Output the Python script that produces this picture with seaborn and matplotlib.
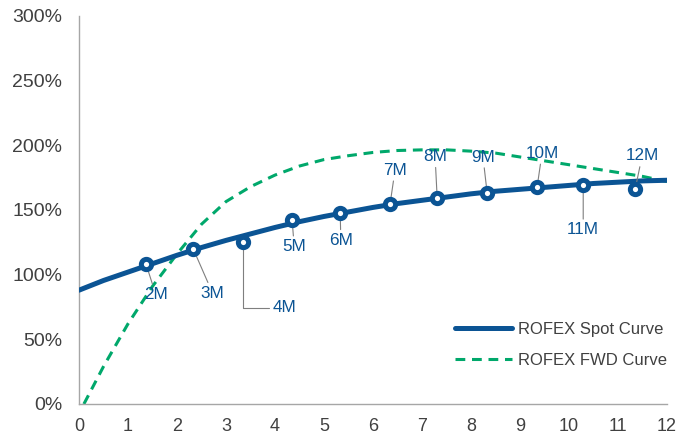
import matplotlib
matplotlib.use("Agg")
import matplotlib.pyplot as plt
import seaborn as sns
import pandas as pd
from matplotlib.ticker import FuncFormatter

# Observed ROFEX futures (months to expiry vs. implied rate, %)
tenor_labels = ["2M", "3M", "4M", "5M", "6M", "7M", "8M", "9M", "10M", "11M", "12M"]
tenor_x = [1.37, 2.33, 3.35, 4.35, 5.33, 6.35, 7.31, 8.33, 9.35, 10.29, 11.35]
tenor_rate = [108, 120, 125, 142, 148, 155, 159, 163, 168, 169, 166]

# Fitted spot curve
spot_x = [0, 0.5, 1, 1.5, 2, 2.5, 3, 3.5, 4, 4.5, 5, 5.5, 6, 6.5,
          7, 7.5, 8, 8.5, 9, 9.5, 10, 10.5, 11, 11.5, 12]
spot_y = [88, 95.5, 102, 108.5, 115, 121, 126.5, 131.5, 136.5, 141, 145, 148.5, 152,
          155, 157.5, 160, 162.5, 164.5, 166, 167.5, 169, 170.5, 171.5, 172.5, 173]

# Implied forward curve
fwd_x = [0.1, 0.5, 1, 1.5, 2, 2.5, 3, 3.5, 4, 4.5, 5, 5.5, 6, 6.5,
         7, 7.5, 8, 8.5, 9, 9.5, 10, 10.5, 11, 11.5, 12]
fwd_y = [0, 29, 62, 91, 116, 139, 156.5, 168, 177, 184, 189, 192, 194.5, 196,
         196.5, 196.5, 195.5, 194, 191, 188, 185, 182, 179, 176, 172]

# Label placement for each tenor: text offset from its point, in points
label_dx = [7, 14, 21, 1.5, 0.5, 3.5, -1.5, -3, 3.5, 0, 5]
label_dy = [-22, -32, -47, -19, -20, 24, 30, 26, 24, -32, 24]

sns.set_theme(style="white")
plt.rcParams["font.family"] = ["Liberation Sans", "DejaVu Sans"]

BLUE = "#0b5494"
GREEN = "#00a86b"
GREY_TXT = "#404040"
AXIS = "#a6a6a6"

fig = plt.figure(figsize=(6.9, 4.38), dpi=100)
ax = fig.add_axes([79 / 690, 34 / 438, 588 / 690, 388 / 438])

spot_df = pd.DataFrame({"x": spot_x, "y": spot_y})
fwd_df = pd.DataFrame({"x": fwd_x, "y": fwd_y})
pts_df = pd.DataFrame({"x": tenor_x, "y": tenor_rate, "label": tenor_labels})

sns.lineplot(data=spot_df, x="x", y="y", ax=ax, color=BLUE, lw=3.6,
             label="ROFEX Spot Curve", zorder=3)
sns.lineplot(data=fwd_df, x="x", y="y", ax=ax, color=GREEN, lw=2.2,
             label="ROFEX FWD Curve", zorder=2)
ax.lines[-1].set_dashes([3.2, 2.2])
ax.lines[-1].set_dash_capstyle("butt")

for i, (xv, yv, lab) in enumerate(zip(tenor_x, tenor_rate, tenor_labels)):
    if lab == "4M":
        ax.annotate(lab, xy=(xv, yv), xytext=(label_dx[i], label_dy[i]),
                    textcoords="offset points", ha="left", va="center",
                    fontsize=12.3, color=BLUE, zorder=4,
                    arrowprops=dict(arrowstyle="-", color="#7f7f7f", lw=0.8,
                                    shrinkA=0, shrinkB=0, relpos=(0, 0.5),
                                    connectionstyle="angle,angleA=0,angleB=90,rad=0"))
    else:
        ax.annotate(lab, xy=(xv, yv), xytext=(label_dx[i], label_dy[i]),
                    textcoords="offset points", ha="center", va="center",
                    fontsize=12.3, color=BLUE, zorder=4,
                    arrowprops=dict(arrowstyle="-", color="#7f7f7f", lw=0.8,
                                    shrinkA=0, shrinkB=0))

ax.plot(pts_df["x"], pts_df["y"], ls="none", marker="o", ms=7.4, mew=3.6,
        mfc="white", mec=BLUE, zorder=5)

ax.set_xlim(0, 12)
ax.set_ylim(0, 300)
ax.set_xticks(range(0, 13))
ax.set_yticks(range(0, 301, 50))
ax.yaxis.set_major_formatter(FuncFormatter(lambda v, p: f"{int(v)}%"))
ax.set_xlabel("")
ax.set_ylabel("")

for side in ("top", "right"):
    ax.spines[side].set_visible(False)
for side in ("left", "bottom"):
    ax.spines[side].set_color(AXIS)
    ax.spines[side].set_linewidth(1.0)
ax.tick_params(axis="both", which="major", direction="out", length=4, width=1.0,
               color=AXIS, labelcolor=GREY_TXT)
ax.tick_params(axis="x", pad=6, labelsize=13)
ax.tick_params(axis="y", pad=8, labelsize=14)

leg = ax.legend(loc="upper left", bbox_to_anchor=(455 / 690, 1 - 322 / 438),
                bbox_transform=fig.transFigure, frameon=False, fontsize=12,
                handlelength=3.4, handletextpad=0.35, labelspacing=0.95,
                borderpad=0, borderaxespad=0)
for t in leg.get_texts():
    t.set_color(GREY_TXT)

fig.savefig("out.png", dpi=100)
